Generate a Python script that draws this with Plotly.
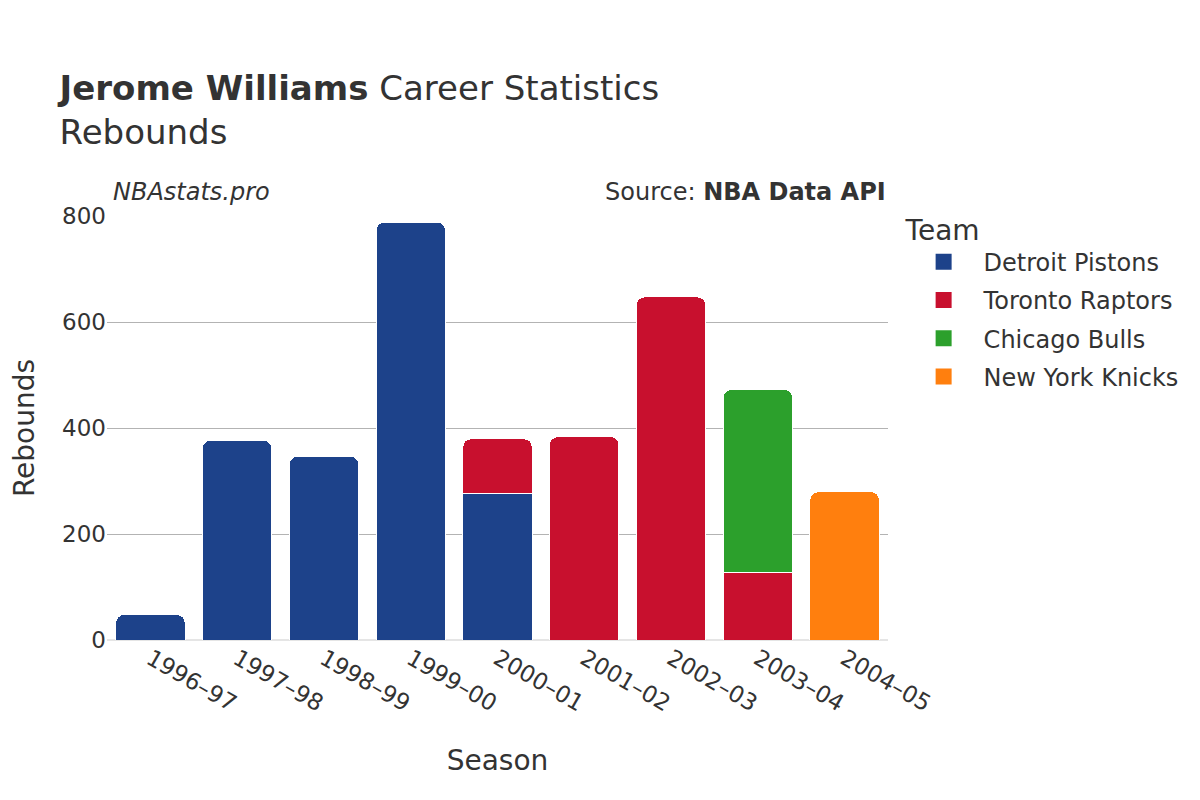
import plotly.graph_objects as go

seasons = ["1996–97", "1997–98", "1998–99", "1999–00", "2000–01",
           "2001–02", "2002–03", "2003–04", "2004–05"]

# rebounds per team per season (None = did not play for that team)
detroit = [48, 377, 347, 789, 277, None, None, None, None]
toronto = [None, None, None, None, 103, 384, 648, 128, None]
chicago = [None, None, None, None, None, None, None, 345, None]
new_york = [None, None, None, None, None, None, None, None, 280]

teams = ["Detroit Pistons", "Toronto Raptors", "Chicago Bulls", "New York Knicks"]
colors = ["#1d428a", "#c8102e", "#2ca02c", "#ff7f0e"]
values = [detroit, toronto, chicago, new_york]

fig = go.Figure()
for name, col, vals in zip(teams, colors, values):
    fig.add_trace(go.Bar(x=seasons, y=vals, name=name, legendgroup=name,
                         showlegend=False,
                         marker=dict(color=col, line=dict(color="white", width=1))))
    # legend-only entry so the swatch can be bigger
    fig.add_trace(go.Scatter(x=[None], y=[None], mode="markers", name=name,
                             legendgroup=name,
                             marker=dict(symbol="square", size=22, color=col)))

# page body adds 8px, margins compensate for it
fig.update_layout(
    barmode="stack",
    barcornerradius=8,
    bargap=0.2,
    width=1200, height=800,
    font=dict(family="DejaVu Sans", color="#333333", size=22),
    plot_bgcolor="white", paper_bgcolor="white",
    margin=dict(l=99, r=320, t=208, b=168),
    title=dict(text="<b>Jerome Williams</b> Career Statistics<br>Rebounds",
               x=0.043, xanchor="left", y=0.885, yanchor="top",
               font=dict(size=34)),
    legend=dict(title=dict(text="Team", font=dict(size=28)),
                font=dict(size=24), x=1.02, y=1.03, yanchor="top",
                traceorder="grouped", tracegroupgap=4, itemwidth=70),
    xaxis=dict(title=dict(text="Season", font=dict(size=28), standoff=34),
               automargin=False, tickangle=30, tickfont=dict(size=23)),
    yaxis=dict(title=dict(text="Rebounds", font=dict(size=28), standoff=26),
               automargin=False,
               range=[0, 800 * 1.001], tickvals=[0, 200, 400, 600, 800],
               gridcolor="#b3b3b3", gridwidth=1,
               zeroline=True, zerolinecolor="#e5e5e5", zerolinewidth=2,
               tickfont=dict(size=23)),
    annotations=[
        dict(text="<i>NBAstats.pro</i>", x=0, y=1.0, xref="paper", yref="paper",
             xanchor="left", yanchor="bottom", xshift=4, yshift=8, showarrow=False,
             font=dict(size=24)),
        dict(text="Source: <b>NBA Data API</b>", x=1, y=1.0, xref="paper", yref="paper",
             xanchor="right", yanchor="bottom", yshift=8, showarrow=False,
             font=dict(size=24)),
    ],
)

fig.write_html("out.html")
